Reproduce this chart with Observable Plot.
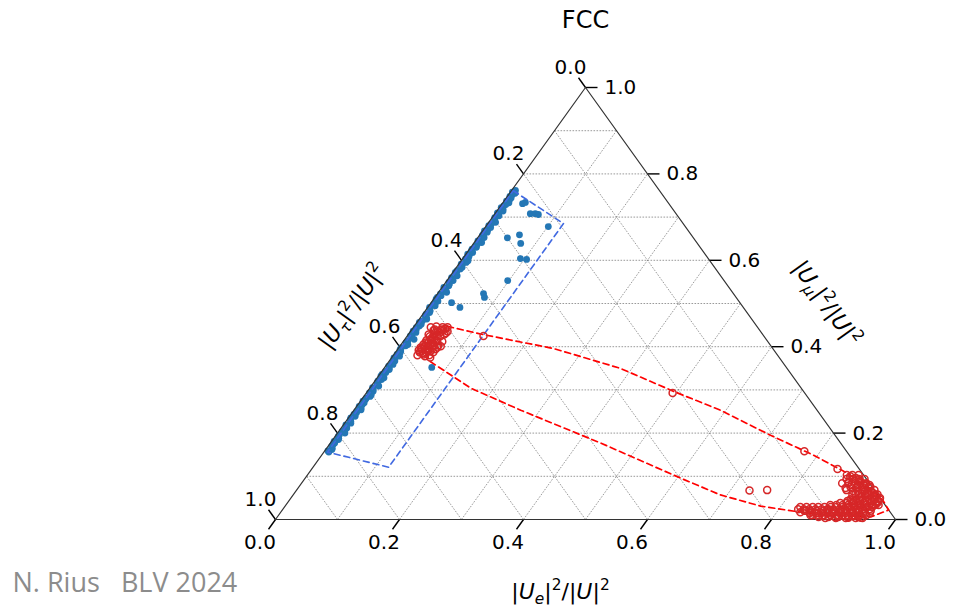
<!DOCTYPE html>
<html><head><meta charset="utf-8">
<script src="https://cdn.jsdelivr.net/npm/d3@7"></script>
<script src="https://cdn.jsdelivr.net/npm/@observablehq/plot@0.6"></script>
<style>html,body{margin:0;padding:0;background:#fff;} #chart{width:959px;height:606px;}</style>
</head><body><div id="chart"></div>
<script>
// ---------------- DATA (ternary: e = |Ue|^2/|U|^2, mu = |Umu|^2/|U|^2, tau = 1 - e - mu) -------------
const gridValues = [0.1,0.2,0.3,0.4,0.5,0.6,0.7,0.8,0.9];
const tickValues = [0,0.2,0.4,0.6,0.8,1.0];
const tickLabels = ["0.0","0.2","0.4","0.6","0.8","1.0"];
const titleText = "FCC";
const creditText = "N. Rius   BLV 2024";

// blue points hugging the |Ue|^2 ~ 0 edge
const blueEdgeE = [
 0.006,0.009,0.004,0.007,0.010,0.005,0.008,0.003,0.009,0.006,
 0.011,0.004,0.007,0.009,0.005,0.008,0.012,0.006,0.004,0.009,
 0.007,0.005,0.010,0.006,0.008,0.004,0.011,0.007,0.005,0.009,
 0.006,0.013,0.008,0.004,0.007,0.010,0.005,0.009,0.006,0.012,
 0.004,0.008,0.007,0.010,0.005,0.015,0.006,0.009,0.004,0.008,
 0.011,0.006,0.007,0.005,0.010,0.008,0.004,0.009,0.006,0.012,
 0.007,0.005,0.010,0.006,0.008,0.004,0.011,0.007,0.009,0.005,
 0.010,0.006,0.008,0.012,0.005,0.009,0.007,0.006,0.010,0.008];
const blueEdgeMu = [
 0.762,0.755,0.748,0.741,0.733,0.726,0.718,0.710,0.703,0.695,
 0.688,0.680,0.672,0.665,0.657,0.649,0.641,0.634,0.626,0.618,
 0.611,0.603,0.595,0.588,0.580,0.572,0.564,0.557,0.549,0.541,
 0.533,0.526,0.518,0.510,0.502,0.495,0.487,0.479,0.471,0.464,
 0.456,0.448,0.440,0.433,0.425,0.417,0.409,0.402,0.394,0.386,
 0.378,0.371,0.363,0.355,0.347,0.340,0.332,0.324,0.316,0.309,
 0.301,0.293,0.285,0.278,0.270,0.262,0.254,0.247,0.239,0.231,
 0.223,0.216,0.208,0.200,0.192,0.185,0.177,0.169,0.162,0.156];
const blueEdge2E = [
 0.003,0.006,0.008,0.004,0.007,0.003,0.010,0.005,0.004,0.008,
 0.006,0.009,0.003,0.005,0.010,0.004,0.007,0.009,0.005,0.003,
 0.008,0.011,0.004,0.009,0.005,0.007,0.004,0.010,0.008,0.003,
 0.010,0.005,0.004,0.009,0.006,0.003,0.008,0.005,0.010,0.007,
 0.009,0.005,0.004,0.006,0.009,0.007,0.011,0.004,0.007,0.005,
 0.004,0.009,0.010,0.008,0.006,0.004,0.011,0.005,0.008,0.004,
 0.009,0.010,0.006,0.004,0.007,0.009,0.006,0.005,0.004,0.008,
 0.004,0.009,0.006,0.005,0.008,0.004,0.006,0.009,0.005];
const blueEdge2Mu = [
 0.758,0.751,0.744,0.737,0.729,0.722,0.714,0.706,0.699,0.691,
 0.684,0.676,0.668,0.661,0.653,0.645,0.637,0.630,0.622,0.614,
 0.607,0.599,0.591,0.584,0.576,0.568,0.560,0.553,0.545,0.537,
 0.529,0.522,0.514,0.506,0.498,0.491,0.483,0.475,0.467,0.460,
 0.452,0.444,0.436,0.429,0.421,0.413,0.405,0.398,0.390,0.382,
 0.374,0.367,0.359,0.351,0.343,0.336,0.328,0.320,0.312,0.305,
 0.297,0.289,0.281,0.274,0.266,0.258,0.250,0.243,0.235,0.227,
 0.219,0.212,0.204,0.196,0.188,0.181,0.173,0.165,0.159];
// scattered blue points inside the blue region
const blueScatterE  = [0.033,0.036,0.057,0.065,0.071,0.101,0.048,0.064,0.076,0.093,0.104,0.098,0.074,0.080,0.033,0.052,0.076];
const blueScatterMu = [0.731,0.734,0.708,0.708,0.706,0.678,0.652,0.659,0.639,0.604,0.602,0.553,0.523,0.514,0.502,0.491,0.352];

// red open circles (sparse points and the two clusters)
const redE = [
 0.831,0.845,0.857,0.868,0.878,0.892,0.903,0.915,0.927,0.935,0.944,0.858,0.878,0.900,0.922,0.942,0.838,0.880,0.905,0.927,
 0.877,0.888,0.899,0.911,0.922,0.932,0.942,0.950,0.952,0.946,0.940,0.895,0.913,0.928,0.941,0.901,0.918,0.913,0.929,0.942,0.881,0.887,
 0.937,0.923,0.924,0.911,0.951,
 0.872,0.883,0.908,0.774,0.848,0.731,0.759,0.123,0.494,
 0.053,0.048,0.044,0.042,0.042,0.043,0.041,0.040,0.039,0.039,0.049,0.055,0.061,0.061,0.063,0.058,0.054,0.052,0.053,0.049,0.048,0.058,0.066,0.052,0.060,
 0.028,0.036,0.047,0.055,0.036,0.048,0.059,0.033,0.042,0.048,0.036,0.048,0.055,0.036,0.045,0.035,0.045,0.035,0.045,0.051,0.055,0.039,0.052,0.062,
 0.037,0.047,0.037,0.047,0.037,0.047,0.037,0.048,0.040,0.061,0.062];
const redMu = [
 0.024,0.020,0.017,0.015,0.017,0.013,0.010,0.008,0.008,0.010,0.013,0.010,0.008,0.006,0.004,0.004,0.017,0.024,0.020,0.017,
 0.100,0.096,0.089,0.082,0.075,0.068,0.058,0.050,0.040,0.034,0.027,0.091,0.068,0.057,0.047,0.073,0.052,0.038,0.038,0.054,0.087,0.068,
 0.045,0.057,0.034,0.027,0.034,
 0.084,0.073,0.045,0.158,0.117,0.067,0.068,0.425,0.293,
 0.442,0.440,0.435,0.428,0.422,0.415,0.408,0.401,0.394,0.387,0.387,0.389,0.394,0.403,0.412,0.428,0.424,0.415,0.403,0.396,0.382,0.380,0.401,0.438,0.435,
 0.445,0.447,0.445,0.445,0.438,0.433,0.431,0.428,0.419,0.424,0.415,0.410,0.412,0.405,0.403,0.398,0.394,0.392,0.385,0.389,0.396,0.380,0.378,0.375,
 0.440,0.438,0.424,0.419,0.410,0.405,0.396,0.392,0.387,0.387,0.398];
// dense part of the heavy-|Ue| cluster
const redCoreE = [
 0.870,0.879,0.889,
 0.874,0.884,0.894,0.903,
 0.882,0.892,0.901,0.911,
 0.889,0.899,0.909,0.918,
 0.890,0.900,0.909,0.919,
 0.898,0.907,0.917,0.927,
 0.905,0.915,0.924,0.934,
 0.902,0.912,0.922,0.931,0.939,
 0.904,0.913,0.923,0.933,0.942,0.951,
 0.901,0.911,0.921,0.930,0.940,0.950,
 0.892,0.902,0.912,0.921,0.931,0.941,0.950,
 0.878,0.888,0.898,0.907,0.917,0.927,0.936,0.946,0.956,
 0.832,0.842,0.852,0.861,0.871,0.881,0.890,0.900,0.910,0.919,0.929,0.939,0.948,
 0.840,0.849,0.859,0.869,0.878,0.888,0.898,0.907,0.917,0.927,0.936,0.946,
 0.843,0.853,0.863,0.873,0.882,0.892,0.902,0.911,0.921,0.931,0.940,0.950,
 0.854,0.864,0.873,0.883,0.893,0.902,0.912,0.922,0.931,0.941,0.951,
 0.861,0.871,0.880,0.890,0.900,0.909,0.919,0.929,0.938,0.948,
 0.873,0.889,0.905,0.921,0.937,
 0.885,0.902,0.918,0.934,0.945];
const redCoreMu = [
 0.103,0.103,0.103,
 0.094,0.094,0.094,0.094,
 0.084,0.084,0.084,0.084,
 0.080,0.080,0.080,0.080,
 0.075,0.075,0.075,0.075,
 0.066,0.066,0.066,0.066,
 0.061,0.061,0.061,0.061,
 0.057,0.057,0.057,0.057,0.057,
 0.047,0.047,0.047,0.047,0.047,0.047,
 0.043,0.043,0.043,0.043,0.043,0.043,
 0.038,0.038,0.038,0.038,0.038,0.038,0.038,
 0.0335,0.0335,0.0335,0.0335,0.0335,0.0335,0.0335,0.0335,0.0335,
 0.029,0.029,0.029,0.029,0.029,0.029,0.029,0.029,0.029,0.029,0.029,0.029,0.029,
 0.024,0.024,0.024,0.024,0.024,0.024,0.024,0.024,0.024,0.024,0.024,0.024,
 0.020,0.020,0.020,0.020,0.020,0.020,0.020,0.020,0.020,0.020,0.020,0.020,
 0.015,0.015,0.015,0.015,0.015,0.015,0.015,0.015,0.015,0.015,0.015,
 0.010,0.010,0.010,0.010,0.010,0.010,0.010,0.010,0.010,0.010,
 0.0058,0.0058,0.0058,0.0058,0.0058,
 0.0035,0.0035,0.0035,0.0035,0.0035];

// dashed region contours
const bluePolyE  = [0.003,0.122,0.122,0.006];
const bluePolyMu = [0.761,0.685,0.121,0.156];
const redPolyE  = [0.054,0.121,0.250,0.381,0.493,0.591,0.701,0.793,0.869,0.920,0.957,0.978,0.957,0.890,0.838,0.767,0.689,0.605,0.436,0.269,0.163,0.063,0.034];
const redPolyMu = [0.447,0.428,0.396,0.350,0.297,0.253,0.195,0.149,0.107,0.073,0.045,0.022,0.006,0.010,0.017,0.031,0.057,0.096,0.177,0.253,0.304,0.368,0.415];

// ---------------- LAYOUT ----------------
const W = 959, H = 606;
const mL = 275, mR = 64, mT = 87, mB = 87;
const pw = W - mL - mR, ph = H - mT - mB;        // 620 x 432
const edgeLen = Math.hypot(pw / 2, ph);
const ux = (pw / 2) / edgeLen, uy = ph / edgeLen;
const tickLen = 12;
const FONT = "DejaVu Sans";

const cart = (e, m) => ({x: e + m / 2, y: m});
const zipPts = (E, M) => E.slice(0, Math.min(E.length, M.length)).map((e, i) => cart(e, M[i]));

const blueAll = zipPts(blueEdgeE, blueEdgeMu).concat(zipPts(blueEdge2E, blueEdge2Mu), zipPts(blueScatterE, blueScatterMu));
const reds = zipPts(redCoreE, redCoreMu).concat(zipPts(redE, redMu));
const bluePoly = zipPts(bluePolyE, bluePolyMu);
const redPoly = zipPts(redPolyE, redPolyMu);
const triangle = [cart(0,0), cart(1,0), cart(0,1)];

const grid = [];
for (const v of gridValues) {
  const a = cart(0, v), b = cart(1 - v, v);
  grid.push({x1: a.x, y1: a.y, x2: b.x, y2: b.y});
  const c = cart(v, 0), d = cart(v, 1 - v);
  grid.push({x1: c.x, y1: c.y, x2: d.x, y2: d.y});
  const f = cart(1 - v, 0), g = cart(0, 1 - v);
  grid.push({x1: f.x, y1: f.y, x2: g.x, y2: g.y});
}

const bottomTicks = tickValues.map((v, i) => { const p = cart(v, 0); return {x: p.x, y: p.y, label: tickLabels[i]}; });
const rightTicks  = tickValues.map((v, i) => { const p = cart(1 - v, v); return {x: p.x, y: p.y, label: tickLabels[i]}; });
const leftTicks   = tickValues.map((v, i) => { const p = cart(0, 1 - v); return {x: p.x, y: p.y, label: tickLabels[i]}; });
const bdx = -tickLen * ux / pw, bdy = -tickLen * uy / ph;
const ldx = -tickLen * ux / pw, ldy = tickLen * uy / ph;
const rdx = tickLen / pw;

const angle = Math.atan2(ph, pw / 2) * 180 / Math.PI;

const LBL_E = "|Ue|2/|U|2", LBL_T = "|Ut|2/|U|2", LBL_M = "|Um|2/|U|2";

const chart = Plot.plot({
  width: W, height: H,
  marginLeft: mL, marginRight: mR, marginTop: mT, marginBottom: mB,
  x: {domain: [0, 1], axis: null},
  y: {domain: [0, 1], axis: null},
  style: {fontFamily: FONT, fontSize: "20px", background: "#fff", color: "#000", overflow: "visible"},
  marks: [
    Plot.link(grid, {x1: "x1", y1: "y1", x2: "x2", y2: "y2", stroke: "#808080", strokeWidth: 0.8, strokeDasharray: "1.6,1.4"}),
    Plot.link(bottomTicks, {x1: "x", y1: "y", x2: d => d.x + bdx, y2: d => d.y + bdy, stroke: "#000", strokeWidth: 1.4}),
    Plot.link(rightTicks,  {x1: "x", y1: "y", x2: d => d.x + rdx, y2: "y", stroke: "#000", strokeWidth: 1.4}),
    Plot.link(leftTicks,   {x1: "x", y1: "y", x2: d => d.x + ldx, y2: d => d.y + ldy, stroke: "#000", strokeWidth: 1.4}),
    Plot.text(bottomTicks, {x: "x", y: "y", text: "label", dx: -15.5, dy: 23, fontSize: 20}),
    Plot.text(rightTicks,  {x: "x", y: "y", text: "label", dx: 19, textAnchor: "start", fontSize: 20}),
    Plot.text(leftTicks,   {x: "x", y: "y", text: "label", dx: -15, dy: -20, fontSize: 20}),
    Plot.dot(blueAll, {x: "x", y: "y", r: 3.4, fill: "#2477b5"}),
    Plot.line(triangle, {x: "x", y: "y", curve: "linear-closed", stroke: "#333", strokeWidth: 1.2}),
    Plot.line(bluePoly, {x: "x", y: "y", curve: "linear-closed", stroke: "#4169e1", strokeWidth: 1.6, strokeDasharray: "6,4"}),
    Plot.line(redPoly, {x: "x", y: "y", curve: "linear-closed", stroke: "#ff0000", strokeWidth: 1.7, strokeDasharray: "6,4"}),
    Plot.dot(reds, {x: "x", y: "y", r: 3.5, stroke: "#d62728", strokeWidth: 1.5, fill: "none"}),
    Plot.text([cart(0.5, 0)], {x: "x", y: "y", text: () => LBL_E, dx: -25, dy: 72, fontSize: 22}),
    Plot.text([cart(0, 0.5)], {x: "x", y: "y", text: () => LBL_T, dx: -78, dy: 3, rotate: -angle, fontSize: 22}),
    Plot.text([cart(0.5, 0.5)], {x: "x", y: "y", text: () => LBL_M, dx: 86, dy: 0, rotate: angle, fontSize: 22}),
    Plot.text([titleText], {frameAnchor: "top", lineAnchor: "middle", text: d => d, dy: -67, fontSize: 24}),
    Plot.text([creditText], {frameAnchor: "bottom-left", lineAnchor: "middle", text: d => d, dx: -263, dy: 64, textAnchor: "start", fontSize: 27, fill: "#8c8c8c", fontFamily: "Open Sans"})
  ]
});
document.getElementById("chart").appendChild(chart);

function setMath(node, sub) {
  const fs = 22;
  const segs = [
    {t: "|"}, {t: "U", i: 1}, {t: sub, i: 1, s: "sub"}, {t: "|"}, {t: "2", s: "sup"},
    {t: "/|"}, {t: "U", i: 1}, {t: "|"}, {t: "2", s: "sup"}
  ];
  const sel = d3.select(node);
  sel.text(null);
  let cur = 0;
  for (const g of segs) {
    const target = g.s === "sub" ? 5 : g.s === "sup" ? -9 : 0;
    const ts = sel.append("tspan").text(g.t);
    if (target - cur !== 0) ts.attr("dy", target - cur);
    cur = target;
    if (g.i) ts.attr("font-style", "italic");
    if (g.s) ts.attr("font-size", fs * 0.7);
  }
}
const subs = {[LBL_E]: "e", [LBL_T]: "\u03C4", [LBL_M]: "\u03BC"};
chart.querySelectorAll("text").forEach(t => {
  const s = t.textContent;
  if (subs[s]) setMath(t, subs[s]);
});
</script>
</body></html>
